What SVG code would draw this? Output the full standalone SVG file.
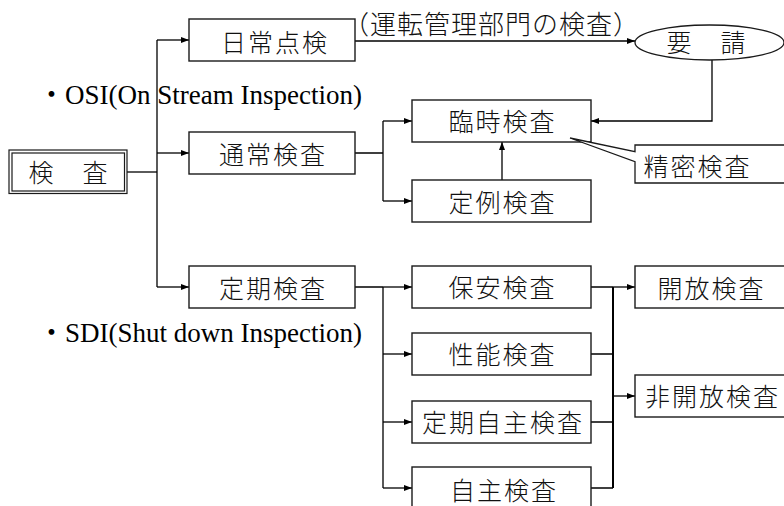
<svg xmlns="http://www.w3.org/2000/svg" width="784" height="506" viewBox="0 0 784 506">
<style>
.box{fill:#fff;stroke:#1a1a1a;stroke-width:1.4}
.ln{fill:none;stroke:#000;stroke-width:1.3}
.jp{font-family:"Noto Sans CJK JP","Noto Sans CJK SC",sans-serif;font-size:25px;font-weight:300;letter-spacing:2px;fill:#111;text-anchor:middle}
.en{font-family:"Liberation Serif","Noto Sans CJK JP",serif;font-size:27px;fill:#000}
</style>
<defs>
<marker id="ah" markerUnits="userSpaceOnUse" markerWidth="9" markerHeight="7" refX="8" refY="3" orient="auto">
<path d="M0,0 L8,3 L0,6 z" fill="#000"/>
</marker>
</defs>
<rect width="784" height="506" fill="#fff"/>

<g id="connectors">
<path class="ln" d="M127,172 H157"/>
<path class="ln" d="M157,40 V287"/>
<path class="ln" d="M157,40 H189" marker-end="url(#ah)"/>
<path class="ln" d="M157,153 H189" marker-end="url(#ah)"/>
<path class="ln" d="M157,287 H189" marker-end="url(#ah)"/>
<path class="ln" d="M355,41 H635" marker-end="url(#ah)"/>
<path class="ln" d="M712,60 V121 H591" marker-end="url(#ah)"/>
<path class="ln" d="M355,153 H383 M383,121 V201"/>
<path class="ln" d="M383,121 H412" marker-end="url(#ah)"/>
<path class="ln" d="M383,201 H412" marker-end="url(#ah)"/>
<path class="ln" d="M502,180 V142" marker-end="url(#ah)"/>
<path class="ln" d="M355,287 H383 M383,287 V488"/>
<path class="ln" d="M383,287 H412" marker-end="url(#ah)"/>
<path class="ln" d="M383,354 H412" marker-end="url(#ah)"/>
<path class="ln" d="M383,422 H412" marker-end="url(#ah)"/>
<path class="ln" d="M383,488 H412" marker-end="url(#ah)"/>
<path class="ln" d="M591,287 H613 M591,354 H613 M591,422 H613 M591,488 H613"/>
<path class="ln" d="M613,287 V488" style="stroke-width:2"/>
<path class="ln" d="M613,287 H635" marker-end="url(#ah)"/>
<path class="ln" d="M613,396 H635" marker-end="url(#ah)"/>
</g>

<g id="root">
<rect x="9" y="150" width="118" height="43.5" fill="#fff" stroke="#1a1a1a" stroke-width="1.2"/>
<rect x="12" y="153" width="112.5" height="38" fill="none" stroke="#1a1a1a" stroke-width="1.2"/>
<text class="jp" x="69" y="182">検　査</text>
</g>

<g id="osi-label"><text class="en" x="38" y="104">・OSI(On Stream Inspection)</text></g>
<g id="sdi-label"><text class="en" x="38" y="342">・SDI(Shut down Inspection)</text></g>

<g id="nichijo">
<rect class="box" x="189" y="19" width="166" height="42"/>
<text class="jp" x="275" y="52">日常点検</text>
</g>
<g id="unten-label">
<text class="jp" x="343" y="34" style="text-anchor:start;font-size:26px;letter-spacing:1px">（運転管理部門の検査）</text>
</g>
<g id="yousei">
<ellipse cx="709.5" cy="42.5" rx="74.5" ry="17.5" fill="#fff" stroke="#1a1a1a" stroke-width="1.3"/>
<text class="jp" x="707" y="52">要　請</text>
</g>
<g id="tsujo">
<rect class="box" x="189" y="132" width="166" height="42"/>
<text class="jp" x="273" y="164">通常検査</text>
</g>
<g id="teiki">
<rect class="box" x="189" y="266" width="166" height="42"/>
<text class="jp" x="273" y="298">定期検査</text>
</g>
<g id="rinji">
<rect class="box" x="412" y="100" width="179" height="42"/>
<text class="jp" x="502.5" y="131">臨時検査</text>
</g>
<g id="seimitsu">
<path d="M635,145 H790 V183 H635 V161.7 L570,138 L635,151.7 Z" fill="#fff" stroke="#1a1a1a" stroke-width="1.3"/>
<text class="jp" x="697.5" y="176">精密検査</text>
</g>
<g id="teirei">
<rect class="box" x="412" y="180" width="179" height="42"/>
<text class="jp" x="502.5" y="212">定例検査</text>
</g>
<g id="hoan">
<rect class="box" x="412" y="266" width="179" height="42"/>
<text class="jp" x="502.5" y="297">保安検査</text>
</g>
<g id="seino">
<rect class="box" x="412" y="333" width="179" height="42"/>
<text class="jp" x="502.5" y="364">性能検査</text>
</g>
<g id="teikijishu">
<rect class="box" x="412" y="401" width="179" height="42"/>
<text class="jp" x="503" y="432">定期自主検査</text>
</g>
<g id="jishu">
<rect class="box" x="412" y="467" width="179" height="42"/>
<text class="jp" x="504" y="500">自主検査</text>
</g>
<g id="kaiho">
<rect class="box" x="635" y="266" width="160" height="42"/>
<text class="jp" x="711.5" y="298">開放検査</text>
</g>
<g id="hikaiho">
<rect class="box" x="635" y="375" width="160" height="42"/>
<text class="jp" x="712.5" y="406">非開放検査</text>
</g>
</svg>
